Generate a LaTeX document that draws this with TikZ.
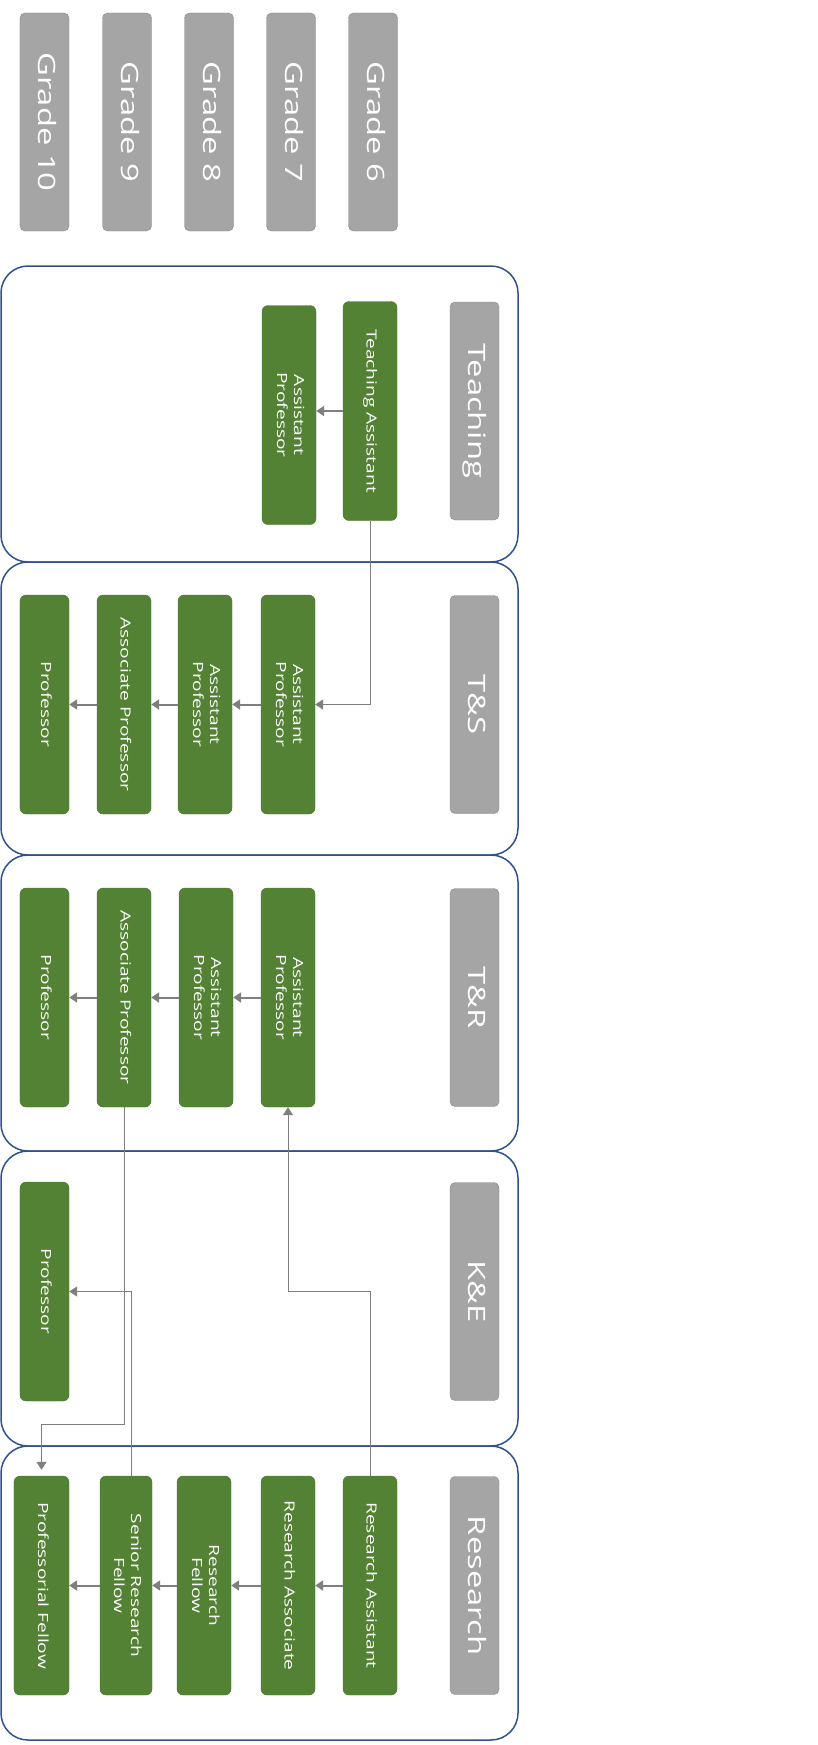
\documentclass[tikz,border=0pt]{standalone}
\usepackage{fontspec}
\setmainfont{Open Sans}
\usepackage{graphicx}
\usetikzlibrary{arrows.meta}

\definecolor{postgreen}{HTML}{548235}
\definecolor{postedge}{HTML}{4A7430}
\definecolor{gradefill}{HTML}{A5A5A5}
\definecolor{gradeedge}{HTML}{878787}
\definecolor{panelblue}{HTML}{2F528F}
\definecolor{arrowgray}{HTML}{7F7F7F}

% rotated label, stretched along its length like the reference
\newcommand{\vlabel}[1]{\rotatebox{-90}{\scalebox{1.37}[1]{\begin{tabular}{@{}c@{}}#1\end{tabular}}}}

\tikzset{
  grade/.style={draw=gradeedge, fill=gradefill, rounded corners=5bp, inner sep=0pt,
    minimum width=49bp, minimum height=218bp, text=white, font=\fontsize{24}{28}\selectfont},
  post/.style={draw=postedge, fill=postgreen, rounded corners=6bp, inner sep=0pt,
    minimum width=54bp, minimum height=219bp, text=white, font=\fontsize{14}{17}\selectfont},
  panel/.style={draw=panelblue, line width=1.5bp, rounded corners=27bp},
  promote/.style={-{Triangle[length=8bp,width=10bp]}, draw=arrowgray, line width=2bp},
  link/.style={-{Triangle[length=8bp,width=10bp]}, draw=arrowgray, line width=1bp},
}

\begin{document}
\begin{tikzpicture}[x=1bp, y=-1bp]
  \useasboundingbox (0,0) rectangle (818,1745);
  % Grade headers
  \foreach \g/\x in {10/44.5, 9/127, 8/209, 7/291, 6/373}
    \node[grade] (g\g) at (\x,122) {\vlabel{Grade \g}};
  % Track panels
  \foreach \top/\bot in {266/562, 562/855, 855/1151, 1151/1446, 1446/1740}
    \draw[panel] (1,\top) rectangle (518,\bot);
  % Track names
  \node[grade] (hTeach) at (474.5,411) {\vlabel{Teaching}};
  \node[grade] (hTS) at (474.5,704.5) {\vlabel{T\&S}};
  \node[grade] (hTR) at (474.5,997.5) {\vlabel{T\&R}};
  \node[grade] (hKE) at (474.5,1291.5) {\vlabel{K\&E}};
  \node[grade] (hRes) at (474.5,1585.5) {\vlabel{Research}};

  % Teaching
  \node[post] (tTA) at (370,411) {\vlabel{Teaching Assistant}};
  \node[post] (tAP) at (289,415) {\vlabel{Assistant\\Professor}};
  \draw[promote] (tTA.west) -- (tTA.west -| tAP.east);

  % T&S
  \node[post] (sAP1) at (288,704.5) {\vlabel{Assistant\\Professor}};
  \node[post] (sAP2) at (205,704.5) {\vlabel{Assistant\\Professor}};
  \node[post] (sAsoc) at (124,704.5) {\vlabel{Associate Professor}};
  \node[post, minimum width=49bp] (sProf) at (44.5,704.5) {\vlabel{Professor}};
  \draw[promote] (sAP1) -- (sAP2);
  \draw[promote] (sAP2) -- (sAsoc);
  \draw[promote] (sAsoc) -- (sProf);

  % T&R
  \node[post] (rAP1) at (288,997.5) {\vlabel{Assistant\\Professor}};
  \node[post] (rAP2) at (206,997.5) {\vlabel{Assistant\\Professor}};
  \node[post] (rAsoc) at (124,997.5) {\vlabel{Associate Professor}};
  \node[post, minimum width=49bp] (rProf) at (44.5,997.5) {\vlabel{Professor}};
  \draw[promote] (rAP1) -- (rAP2);
  \draw[promote] (rAP2) -- (rAsoc);
  \draw[promote] (rAsoc) -- (rProf);

  % K&E
  \node[post, minimum width=49bp] (kProf) at (44.5,1291.5) {\vlabel{Professor}};

  % Research
  \node[post] (eRA) at (370,1585.5) {\vlabel{Research Assistant}};
  \node[post] (eRAsoc) at (288,1585.5) {\vlabel{Research Associate}};
  \node[post] (eRF) at (204,1585.5) {\vlabel{Research\\Fellow}};
  \node[post, minimum width=52bp] (eSRF) at (126,1585.5) {\vlabel{Senior Research\\Fellow}};
  \node[post, minimum width=55bp] (ePF) at (41.5,1585.5) {\vlabel{Professorial Fellow}};
  \draw[promote] (eRA) -- (eRAsoc);
  \draw[promote] (eRAsoc) -- (eRF);
  \draw[promote] (eRF) -- (eSRF);
  \draw[promote] (eSRF) -- (ePF);

  % Links between tracks
  \draw[link] (tTA.south) |- (sAP1.east);
  \coordinate (kneeRA) at (eRA.north |- kProf.east);
  \draw[link] (eRA.north) -- (kneeRA) -| (rAP1.south);
  \coordinate (kneeAsoc) at (124,1424);
  \draw[link, shorten >=6bp] (rAsoc.south) -- (kneeAsoc) -| (ePF.north);
  \draw[link] ([xshift=5bp]eSRF.north) |- (kProf.east);
\end{tikzpicture}
\end{document}
